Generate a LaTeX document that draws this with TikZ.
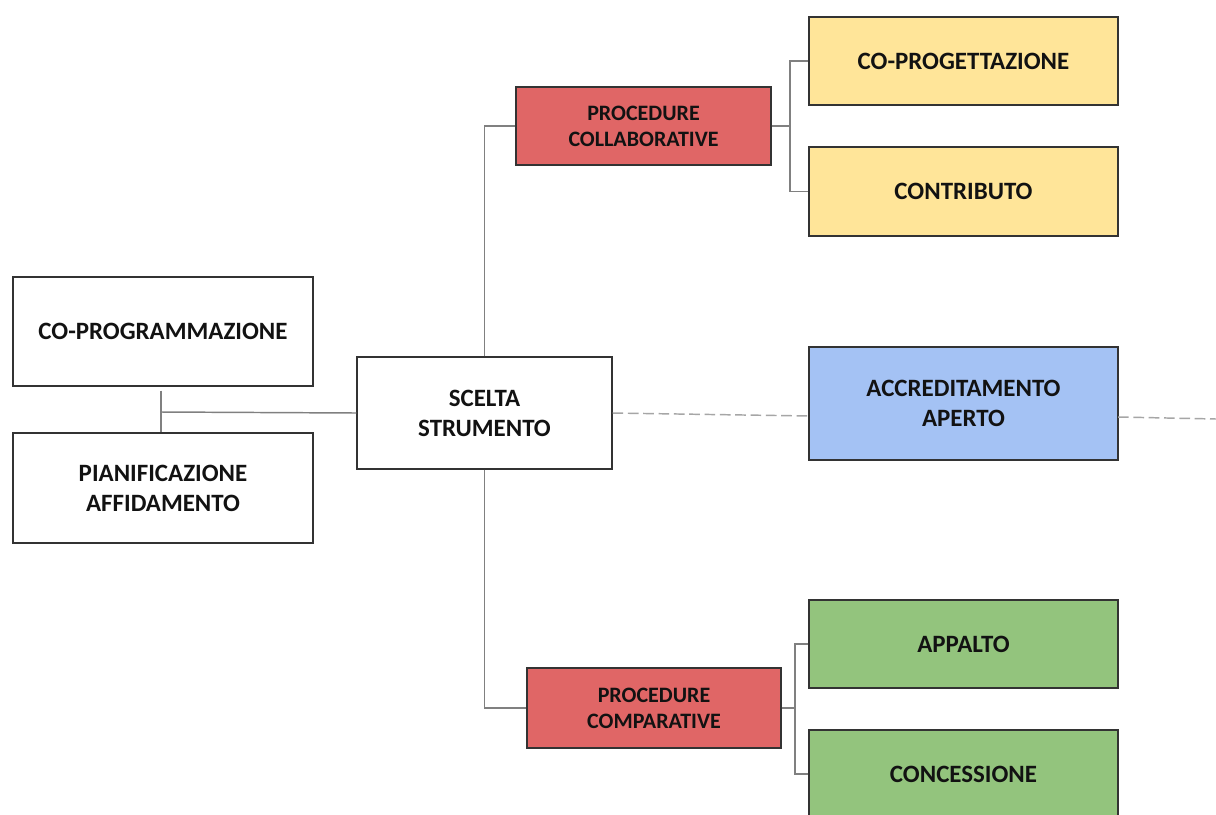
\documentclass[tikz,border=0pt]{standalone}
\usepackage{fontspec}
\setmainfont{Carlito}
\begin{document}
\begin{tikzpicture}[x=0.75pt,y=-0.75pt,
  box/.style={draw=black!80, line width=0.8pt, text=black!93, font=\bfseries\fontsize{18.7}{22.5}\selectfont, align=center, inner sep=2pt},
  small/.style={font=\bfseries\fontsize{16.5}{19.5}\selectfont},
  conn/.style={draw=black!50, line width=1.1pt},
  dashconn/.style={draw=black!35, line width=1.1pt, dash pattern=on 8pt off 3.5pt}]
\definecolor{redf}{HTML}{E06666}
\definecolor{yelf}{HTML}{FFE599}
\definecolor{bluf}{HTML}{A4C2F4}
\definecolor{grnf}{HTML}{93C47D}
\useasboundingbox (0,0) rectangle (1216,814);
\fill[white] (0,0) rectangle (1216,814);

\node[box, minimum width=225pt, minimum height=81.75pt] (coprog) at (163,331.5) {CO-PROGRAMMAZIONE};
\node[box, minimum width=225pt, minimum height=82.5pt] (pianif) at (163,488) {PIANIFICAZIONE\\AFFIDAMENTO};
\node[box, minimum width=191.25pt, minimum height=84pt] (scelta) at (484.5,413) {SCELTA\\STRUMENTO};
\node[box, small, fill=redf, minimum width=191.25pt, minimum height=58.5pt] (collab) at (643.5,126) {PROCEDURE\\COLLABORATIVE};
\node[box, small, fill=redf, minimum width=190.5pt, minimum height=60pt] (compar) at (654,708) {PROCEDURE\\COMPARATIVE};
\node[box, fill=yelf, minimum width=231.75pt, minimum height=66pt] (coprogett) at (963.5,61) {CO-PROGETTAZIONE};
\node[box, fill=yelf, minimum width=231.75pt, minimum height=66.75pt] (contrib) at (963.5,191.5) {CONTRIBUTO};
\node[box, fill=bluf, minimum width=231.75pt, minimum height=84.75pt] (accred) at (963.5,403.5) {ACCREDITAMENTO\\APERTO};
\node[box, fill=grnf, minimum width=231.75pt, minimum height=66pt] (appalto) at (963.5,644) {APPALTO};
\node[box, fill=grnf, minimum width=231.75pt, minimum height=66pt] (concess) at (963.5,774) {CONCESSIONE};

% left connector
\coordinate (j) at (161,412);
\draw[conn] (coprog.south) ++(-2,4) coordinate (ja) -- (ja |- pianif.north);
\draw[conn] (j) -- (scelta.west);

% scelta to procedures
\draw[conn] (scelta.north) |- (collab.west);
\draw[conn] (scelta.south) |- (compar.west);

% collaborative branches
\coordinate (c1) at (790,126);
\draw[conn] (collab.east) -- (c1);
\draw[conn] (c1) |- (coprogett.west);
\draw[conn] (c1) |- (contrib.west);

% comparative branches
\coordinate (c2) at (795,708);
\draw[conn] (compar.east) -- (c2);
\draw[conn] (c2) |- (appalto.west);
\draw[conn] (c2) |- (concess.west);

% dashed
\coordinate (d1) at (809,416);
\coordinate (d2) at (1118,417);
\coordinate (dend) at (1216,419);
\draw[dashconn] (scelta.east) -- (d1);
\draw[dashconn] (d2) -- (dend);
\end{tikzpicture}
\end{document}
